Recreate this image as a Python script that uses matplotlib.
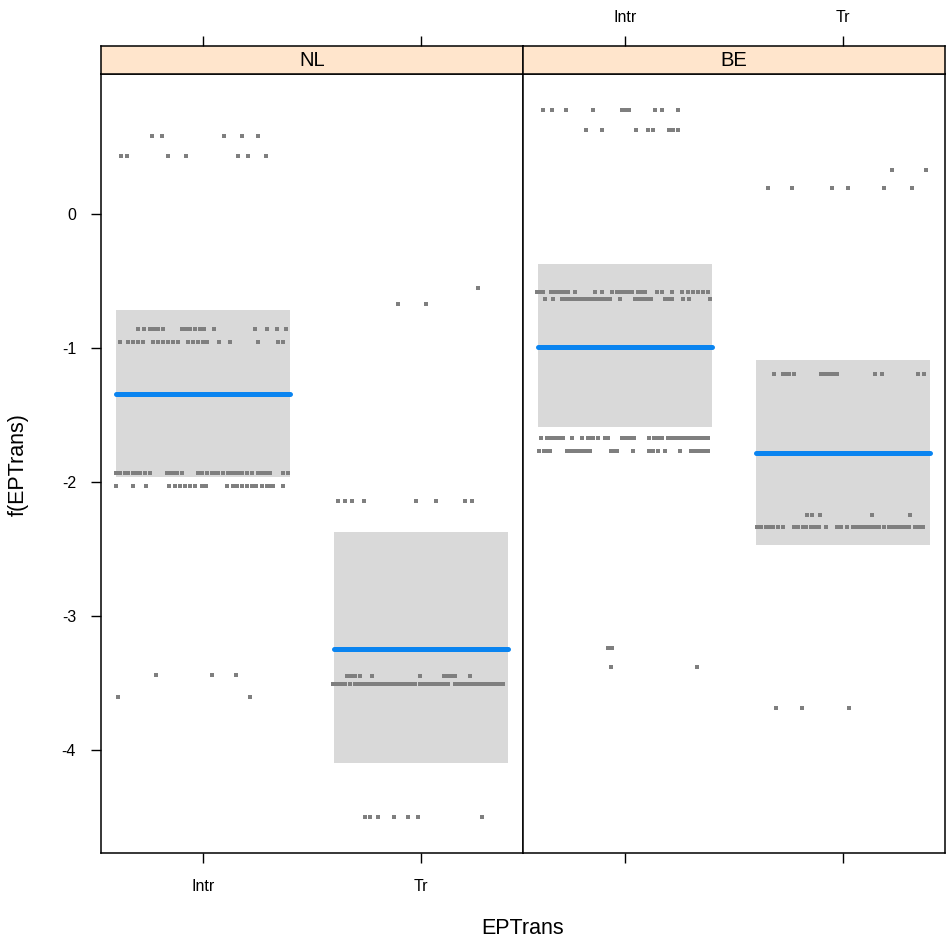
import matplotlib
matplotlib.use("Agg")
import matplotlib.pyplot as plt

plt.rcParams['font.family'] = ['Liberation Sans', 'DejaVu Sans']

panels = ["NL", "BE"]
categories = ["Intr", "Tr"]

# fitted effects and confidence limits per panel, per category
fit = {"NL": [-1.343, -3.246], "BE": [-0.993, -1.784]}
lower = {"NL": [-1.963, -4.097], "BE": [-1.590, -2.470]}
upper = {"NL": [-0.716, -2.373], "BE": [-0.373, -1.090]}

# partial residuals: rows of (residual value, jittered x offsets from category)
res_NL_Intr = [
    (0.584, [-0.235, -0.19, 0.096, 0.178, 0.252]),
    (0.435, [-0.376, -0.349, -0.161, -0.078, 0.159, 0.205, 0.288]),
    (-0.861, [-0.30, -0.27, -0.243, -0.223, -0.205, -0.182, -0.098, -0.078, -0.06, -0.037,
              -0.014, 0.005, 0.05, 0.239, 0.292, 0.338, 0.381]),
    (-0.955, [-0.381, -0.344, -0.321, -0.298, -0.275, -0.229, -0.206, -0.183, -0.161, -0.138,
              -0.115, -0.07, -0.046, -0.023, 0.0, 0.018, 0.073, 0.124, 0.254, 0.344, 0.367]),
    (-1.935, [-0.399, -0.381, -0.358, -0.344, -0.321, -0.307, -0.289, -0.266, -0.243, -0.167,
              -0.151, -0.139, -0.119, -0.098, -0.023, -0.005, 0.018, 0.04, 0.05, 0.069, 0.092,
              0.115, 0.127, 0.147, 0.161, 0.179, 0.2, 0.223, 0.252, 0.271, 0.289, 0.307, 0.365, 0.39]),
    (-2.03, [-0.399, -0.321, -0.261, -0.156, -0.128, -0.106, -0.083, -0.06, -0.037, -0.006,
             0.014, 0.11, 0.136, 0.156, 0.179, 0.202, 0.225, 0.243, 0.269, 0.292, 0.307, 0.321, 0.368]),
    (-3.445, [-0.216, 0.04, 0.15]),
    (-3.609, [-0.389, 0.216]),
]
res_NL_Tr = [
    (-0.55, [0.261]),
    (-0.669, [-0.107, 0.023]),
    (-2.145, [-0.379, -0.349, -0.318, -0.261, -0.023, 0.069, 0.202, 0.233]),
    (-3.45, [-0.341, -0.321, -0.303, -0.28, -0.226, -0.005, 0.106, 0.124, 0.142, 0.156, 0.225]),
    (-3.507, [-0.404, -0.385, -0.367, -0.349, -0.326, -0.303, -0.284, -0.266, -0.248, -0.229,
              -0.211, -0.193, -0.174, -0.156, -0.138, -0.119, -0.101, -0.083, -0.064, -0.046,
              -0.028, -0.005, 0.014, 0.032, 0.05, 0.069, 0.087, 0.106, 0.124, 0.156, 0.174, 0.193,
              0.211, 0.229, 0.248, 0.266, 0.284, 0.303, 0.321, 0.339, 0.358, 0.376]),
    (-4.505, [-0.257, -0.234, -0.199, -0.124, -0.061, -0.015, 0.278]),
]
res_BE_Intr = [
    (0.778, [-0.375, -0.336, -0.272, -0.145, -0.015, 0.0, 0.018, 0.138, 0.168, 0.242]),
    (0.629, [-0.18, -0.107, 0.049, 0.104, 0.13, 0.202, 0.22, 0.242]),
    (-0.58, [-0.405, -0.39, -0.375, -0.339, -0.322, -0.306, -0.288, -0.275, -0.263, -0.229,
             -0.138, -0.107, -0.058, -0.039, -0.02, 0.0, 0.008, 0.018, 0.031, 0.061, 0.076, 0.092,
             0.145, 0.168, 0.214, 0.26, 0.29, 0.313, 0.335, 0.359, 0.382]),
    (-0.637, [-0.367, -0.329, -0.289, -0.271, -0.252, -0.234, -0.216, -0.197, -0.179, -0.161,
              -0.142, -0.124, -0.106, -0.087, -0.069, -0.023, 0.046, 0.064, 0.083, 0.101, 0.119,
              0.183, 0.197, 0.214, 0.267, 0.294, 0.39]),
    (-1.674, [-0.385, -0.358, -0.339, -0.321, -0.303, -0.284, -0.244, -0.199, -0.168, -0.156,
              -0.145, -0.125, -0.092, -0.076, -0.014, 0.005, 0.023, 0.041, 0.11, 0.135, 0.151,
              0.168, 0.196, 0.216, 0.234, 0.252, 0.271, 0.289, 0.307, 0.326, 0.344, 0.362, 0.381]),
    (-1.766, [-0.394, -0.37, -0.358, -0.344, -0.266, -0.248, -0.229, -0.211, -0.193, -0.174,
              -0.161, -0.064, -0.05, -0.038, 0.038, 0.11, 0.13, 0.153, 0.183, 0.252, 0.303, 0.317,
              0.334, 0.355, 0.367, 0.379]),
    (-3.24, [-0.078, -0.06]),
    (-3.38, [-0.064, 0.33]),
]
res_BE_Tr = [
    (0.328, [0.223, 0.379]),
    (0.196, [-0.343, -0.235, -0.052, 0.022, 0.188, 0.315]),
    (-1.194, [-0.317, -0.277, -0.261, -0.246, -0.225, -0.102, -0.09, -0.078, -0.063, -0.044,
              -0.026, 0.147, 0.18, 0.343, 0.372]),
    (-2.25, [-0.167, -0.144, -0.106, 0.134, 0.307]),
    (-2.34, [-0.396, -0.376, -0.353, -0.338, -0.32, -0.297, -0.274, -0.225, -0.206, -0.182,
             -0.17, -0.148, -0.128, -0.109, -0.078, -0.029, -0.009, 0.02, 0.046, 0.064, 0.083,
             0.101, 0.119, 0.138, 0.151, 0.167, 0.188, 0.212, 0.229, 0.248, 0.266, 0.284, 0.303,
             0.33, 0.349, 0.368]),
    (-3.69, [-0.307, -0.188, 0.028]),
]
residuals = {"NL": [res_NL_Intr, res_NL_Tr], "BE": [res_BE_Intr, res_BE_Tr]}

yticks = [0, -1, -2, -3, -4]
band_half = 0.4

W, H = 946, 943
fig = plt.figure(figsize=(W / 100, H / 100), dpi=100)

def fx(px):
    return px / W

def fy(py):
    return 1 - py / H

panel_left = [101, 523]
panel_w = 422
top_px, bot_px = 74, 853
strip_top = 46
tick_fs = 11.5

xs = [1, 2]
for i, p in enumerate(panels):
    ax = fig.add_axes([fx(panel_left[i]), fy(bot_px), panel_w / W, (bot_px - top_px) / H])
    sax = fig.add_axes([fx(panel_left[i]), fy(top_px), panel_w / W, (top_px - strip_top) / H])
    ax.set_xlim(0.532, 2.468)
    ax.set_ylim(-4.77, 1.045)
    sax.set_xlim(0.532, 2.468)
    sax.set_ylim(0, 1)
    for j, c in enumerate(categories):
        x = xs[j]
        ax.fill_between([x - band_half, x + band_half], lower[p][j], upper[p][j],
                        color='#d9d9d9', lw=0, zorder=1)
        for yv, offs in residuals[p][j]:
            ax.plot([x + o for o in offs], [yv] * len(offs), ls='none', marker='s',
                    ms=2.9, mew=0, color='#7f7f7f', zorder=2)
        ax.plot([x - band_half, x + band_half], [fit[p][j]] * 2, color='#0a84f0',
                lw=3.6, solid_capstyle='round', zorder=3)
    for s in ax.spines.values():
        s.set_linewidth(1.1)
        s.set_color('black')
    ax.set_xticks(xs)
    ax.tick_params(axis='both', direction='out', length=7, width=1.0, labelsize=tick_fs)
    ax.tick_params(axis='x', pad=12, top=False)
    ax.tick_params(axis='y', pad=11, right=False)
    if i == 0:
        ax.set_xticklabels(categories)
        ax.set_yticks(yticks)
        ax.set_yticklabels([str(v) for v in yticks])
    else:
        ax.set_xticklabels([])
        ax.set_yticks([])
    # strip
    sax.set_facecolor('#ffe5cc')
    for s in sax.spines.values():
        s.set_linewidth(1.1)
        s.set_color('black')
    sax.set_yticks([])
    sax.set_xticks(xs)
    sax.tick_params(axis='x', bottom=False, top=True, labelbottom=False,
                    labeltop=(i == 1), direction='out', length=7, width=1.0,
                    labelsize=tick_fs, pad=8)
    if i == 1:
        sax.set_xticklabels(categories)
    sax.text(0.5, 0.5, p, transform=sax.transAxes, ha='center', va='center', fontsize=14.5)

fig.text(fx(523), fy(928), "EPTrans", ha='center', va='center', fontsize=15.5)
fig.text(fx(18), fy(465), "f(EPTrans)", ha='center', va='center', rotation=90, fontsize=15.5)

fig.savefig("out.png", dpi=100)
